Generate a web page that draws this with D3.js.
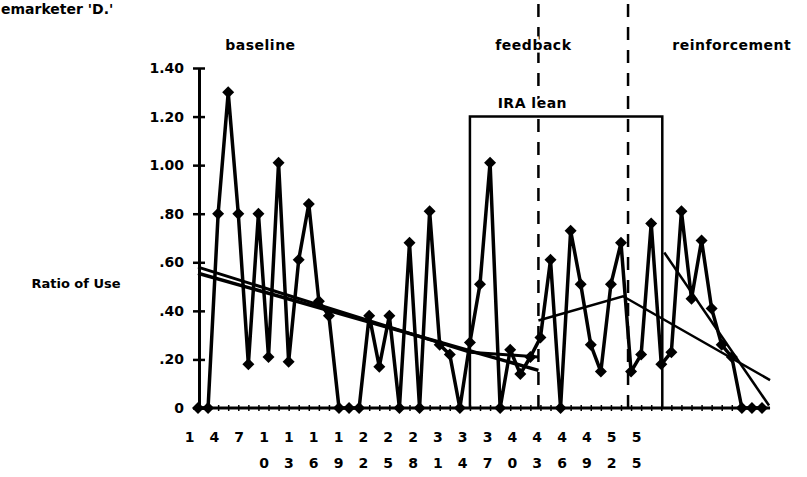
<!DOCTYPE html>
<html>
<head>
<meta charset="utf-8">
<script src="https://cdn.jsdelivr.net/npm/d3@7"></script>
<style>
  body { margin: 0; background: #fff; }
  svg { display: block; font-family: "DejaVu Sans", sans-serif; font-weight: bold; }
</style>
</head>
<body>
<svg id="chart" width="807" height="477"></svg>
<script>
// ratio of use per session
const ratioOfUse = [0, 0, 0.80, 1.30, 0.80, 0.18, 0.80, 0.21, 1.01, 0.19,
  0.61, 0.84, 0.44, 0.38, 0, 0, 0, 0.38, 0.17, 0.38,
  0, 0.68, 0, 0.81, 0.26, 0.22, 0, 0.27, 0.51, 1.01,
  0, 0.24, 0.14, 0.21, 0.29, 0.61, 0, 0.73, 0.51, 0.26,
  0.15, 0.51, 0.68, 0.15, 0.22, 0.76, 0.18, 0.23, 0.81, 0.45,
  0.69, 0.41, 0.26, 0.21, 0, 0, 0];
const sessions = ratioOfUse.map((v, i) => i + 1);

const xLabels = [1, 4, 7, 10, 13, 16, 19, 22, 25, 28, 31, 34, 37, 40, 43, 46, 49, 52, 55];
const yTicks = [0, 0.2, 0.4, 0.6, 0.8, 1.0, 1.2, 1.4];
const yTickLabels = ["0", ".20", ".40", ".60", ".80", "1.00", "1.20", "1.40"];

const phaseNames = ["baseline", "feedback", "reinforcement"];
const phaseChanges = [34.8, 43.7];      // session where phase changes
const iraLean = [28, 47.1];             // sessions under the IRA lean bracket
const iraLevel = 1.2;

// trend lines: [session, ratio]
const trendLines = [
  [[1, 0.555], [34.8, 0.155]],
  [[1, 0.58], [28, 0.23], [34.8, 0.21]],
  [[34.8, 0.36], [43.2, 0.46], [57.8, 0.115]],
  [[47.3, 0.64], [57.7, 0.01]]
];
const trendWidths = [3.5, 3, 2.5, 2.5];

const svg = d3.select("#chart");

const x = d3.scaleLinear().domain([1, 57]).range([198, 762]);
const y = d3.scaleLinear().domain([0, 1.4]).range([408, 68]);
// the category labels were printed on their own spacing
const xLab = d3.scaleLinear().domain([1, 55]).range([189, 636]);

// top caption (cut off in the scan)
svg.append("text")
  .attr("x", 1).attr("y", 14)
  .style("font-size", "14px")
  .text("emarketer 'D.'");

// phase change lines
svg.selectAll(".phase")
  .data(phaseChanges)
  .enter()
  .append("line")
  .attr("x1", d => x(d)).attr("x2", d => x(d))
  .attr("y1", 4).attr("y2", y(0))
  .attr("stroke", "#000")
  .attr("stroke-width", 2.5)
  .attr("stroke-dasharray", "13,10");

// phase titles
const phaseAt = [7.2, 34.3, 54.0];
svg.selectAll(".phaseLabel")
  .data(phaseNames)
  .enter()
  .append("text")
  .attr("x", (d, i) => x(phaseAt[i]))
  .attr("y", 50)
  .attr("text-anchor", "middle")
  .style("font-size", "14px")
  .style("letter-spacing", "0.5px")
  .attr("stroke", "#fff").attr("stroke-width", 5).attr("paint-order", "stroke")
  .text(d => d);

// IRA lean bracket
svg.append("path")
  .attr("d", d3.line()([
    [x(iraLean[0]), y(0)], [x(iraLean[0]), y(iraLevel)],
    [x(iraLean[1]), y(iraLevel)], [x(iraLean[1]), y(0)]
  ]))
  .attr("fill", "none")
  .attr("stroke", "#000")
  .attr("stroke-width", 2.5);

svg.append("text")
  .attr("x", x(34.2))
  .attr("y", y(iraLevel) - 9)
  .attr("text-anchor", "middle")
  .style("font-size", "14px")
  .style("letter-spacing", "0.5px")
  .attr("stroke", "#fff").attr("stroke-width", 4).attr("paint-order", "stroke")
  .text("IRA lean");

// y axis
const yAxis = svg.append("g")
  .attr("transform", `translate(${x(1) + 1},0)`)
  .call(d3.axisLeft(y)
    .tickValues(yTicks)
    .tickFormat((d, i) => yTickLabels[i])
    .tickSizeInner(6)
    .tickSizeOuter(0)
    .tickPadding(9));
yAxis.select(".domain").attr("stroke-width", 3);
yAxis.selectAll(".tick line").attr("x1", 6).attr("stroke-width", 2.5);
yAxis.selectAll(".tick text")
  .style("font-size", "14px")
  .style("font-family", "DejaVu Sans")
  .style("font-weight", "bold")
  .attr("fill", "#000");

svg.append("text")
  .attr("x", 76).attr("y", 288)
  .attr("text-anchor", "middle")
  .style("font-size", "13px")
  .text("Ratio of Use");

// x baseline with session ticks
svg.append("line")
  .attr("x1", x(1)).attr("x2", x(57.8))
  .attr("y1", y(0)).attr("y2", y(0))
  .attr("stroke", "#000").attr("stroke-width", 3);
const xTicks = svg.append("g")
  .attr("transform", `translate(0,${y(0)})`)
  .call(d3.axisBottom(x).tickValues(sessions).tickSize(3).tickFormat(""));
xTicks.select(".domain").remove();
xTicks.selectAll(".tick line").attr("y1", -3).attr("stroke-width", 1.5);

// category labels, digits stacked
const labAxis = svg.append("g")
  .attr("transform", `translate(0,${y(0)})`)
  .call(d3.axisBottom(xLab).tickValues(xLabels).tickSize(0).tickFormat(""));
labAxis.select(".domain").remove();
labAxis.selectAll(".tick text").remove();
labAxis.selectAll(".tick").each(function (d) {
  d3.select(this).selectAll(".dig")
    .data(String(d).split(""))
    .enter()
    .append("text")
    .attr("class", "dig")
    .attr("y", (c, i) => 34 + i * 26)
    .attr("text-anchor", "middle")
    .attr("fill", "#000")
    .style("font-size", "14px")
    .style("font-family", "DejaVu Sans")
    .style("font-weight", "bold")
    .text(c => c);
});

// trend lines
const trend = d3.line().x(d => x(d[0])).y(d => y(d[1]));
svg.selectAll(".trend")
  .data(trendLines)
  .enter()
  .append("path")
  .attr("d", trend)
  .attr("fill", "none")
  .attr("stroke", "#000")
  .attr("stroke-width", (d, i) => trendWidths[i]);

// data line
svg.append("path")
  .datum(ratioOfUse)
  .attr("d", d3.line().x((d, i) => x(sessions[i])).y(d => y(d)))
  .attr("fill", "none")
  .attr("stroke", "#000")
  .attr("stroke-width", 3.5)
  .attr("stroke-linejoin", "round");

svg.selectAll(".pt")
  .data(ratioOfUse)
  .enter()
  .append("path")
  .attr("d", d3.symbol(d3.symbolSquare, 72))
  .attr("transform", (d, i) => `translate(${x(sessions[i])},${y(d)}) rotate(45)`)
  .attr("fill", "#000");
</script>
</body>
</html>
